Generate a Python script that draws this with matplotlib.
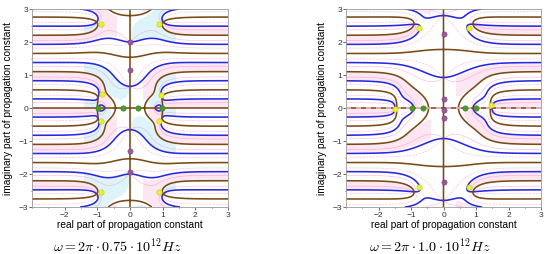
import numpy as np
import matplotlib
matplotlib.use('Agg')
import matplotlib.pyplot as plt

plt.rcParams['mathtext.fontset'] = 'cm'
plt.rcParams['font.family'] = ['Liberation Sans', 'DejaVu Sans']

# ---- data ----
# model parameters of the dispersion function per panel
# F(z) = cosh(a z) - c cosh(b z) exp(k z^2) * h/(|h|+eps),  h = z^2 - r^2
left_params = dict(a=5.7, c=30.6, b=2.35, k=0.0, r=0.72, eps=0.1)
right_params = dict(a=5.7, c=213.0, b=1.7, k=0.3, r=0.9, eps=0.1)

# marked roots (x, y)
left_yellow_x = [-0.88, 0.88, -0.88, 0.88, -0.87, 0.95, -0.88, 0.90]
left_yellow_y = [2.55, 2.55, -2.55, -2.55, 0.42, 0.38, -0.38, -0.38]
left_green_x = [-0.97, -0.22, 0.23, 0.97]
left_green_y = [0.0, 0.0, 0.0, 0.0]
left_purple_x = [0.0, 0.0, 0.0, 0.0]
left_purple_y = [2.0, 1.15, -1.3, -1.95]

right_yellow_x = [-0.75, 0.78, -0.75, 0.78, -1.49, 1.47]
right_yellow_y = [2.42, 2.42, -2.4, -2.4, -0.03, 0.08]
right_green_x = [-0.97, -0.62, 0.67, 0.99]
right_green_y = [0.0, 0.0, 0.0, 0.0]
right_purple_x = [0.0, 0.0, 0.0, 0.0, 0.0]
right_purple_y = [2.25, 0.27, -0.3, -2.25, -0.05]

xticks = [-2, -1, 0, 1, 2, 3]
yticks = [-3, -2, -1, 0, 1, 2, 3]
titles = [r'$\omega = 2\pi\cdot 0.75\cdot 10^{12}Hz$',
          r'$\omega = 2\pi\cdot 1.0\cdot 10^{12}Hz$']
xlabel = 'real part of propagation constant'
ylabel = 'imaginary part of propagation constant'

BLUE = '#2828e0'
BROWN = '#7a4a16'
PINK = '#ff80c8'

g = np.linspace(-3, 3, 600)
X, Y = np.meshgrid(g, g)
Z = X + 1j * Y


def model(a, c, b, k, r, eps):
    h = Z**2 - r**2
    return np.cosh(a * Z) - c * np.cosh(b * Z) * np.exp(k * Z**2) * h / (np.abs(h) + eps)


fig = plt.figure(figsize=(5.5, 2.55), dpi=100)
axL = fig.add_axes([32/550, 1-208/255, 196/550, 198/255])
axR = fig.add_axes([346/550, 1-208/255, 195/550, 198/255])

panels = [
    (axL, left_params, (left_yellow_x, left_yellow_y), (left_green_x, left_green_y),
     (left_purple_x, left_purple_y), titles[0], 117/550, False),
    (axR, right_params, (right_yellow_x, right_yellow_y), (right_green_x, right_green_y),
     (right_purple_x, right_purple_y), titles[1], 430/550, True),
]

for ax, prm, yel, grn, pur, title, tx, dashed_axis in panels:
    F = model(**prm)
    ph = np.angle(F)
    # faint background bands
    band = (ph > 0.15) & (ph < 1.3) & (np.abs(X) > 0.4)
    ax.contourf(X, Y, band.astype(float), levels=[0.5, 1.5], colors=['#fce6f1'])
    if not dashed_axis:
        cyan = (ph < -0.2) & (ph > -1.4) & (np.abs(X) < 1.4)
        ax.contourf(X, Y, cyan.astype(float), levels=[0.5, 1.5], colors=['#ddf4fa'])
    # faint pink side contours
    ax.contour(X, Y, np.cos(ph), levels=[-0.6, 0.6], colors=PINK, linewidths=0.45, alpha=0.55)
    # zero contours of the real (blue) and imaginary (brown) part
    ax.contour(X, Y, F.real, levels=[0], colors=BLUE, linewidths=1.15)
    ax.contour(X, Y, F.imag, levels=[0], colors=BROWN, linewidths=1.15)
    if dashed_axis:
        ax.plot([-3, 3], [0, 0], color='#f2b8cc', lw=1.2, ls=(0, (3, 3)))
    ax.scatter(*yel, s=15, color='#e8f030', edgecolors='#c8d000', linewidths=0.4, zorder=5)
    ax.scatter(*grn, s=15, color='#4a9a2a', edgecolors='#3a8020', linewidths=0.4, zorder=5)
    ax.scatter(*pur, s=14, color='#9a5a9a', edgecolors='#7a3a7a', linewidths=0.4, zorder=5)
    ax.set_xlim(-3, 3)
    ax.set_ylim(-3, 3)
    ax.set_xticks(xticks)
    ax.set_yticks(yticks)
    ax.set_xticks(np.arange(-3, 3.01, 0.5), minor=True)
    ax.set_yticks(np.arange(-3, 3.01, 0.5), minor=True)
    ax.tick_params(labelsize=6, length=2, width=0.5, pad=0.8, colors='#333333')
    ax.tick_params(which='minor', length=1, width=0.4)
    for s in ax.spines.values():
        s.set_color('#9a9a9a')
        s.set_linewidth(0.6)
    ax.set_xlabel(xlabel, fontsize=7.3)
    ax.set_ylabel(ylabel, fontsize=7.3)
    ax.xaxis.set_label_coords(0.5, -0.06)
    ax.yaxis.set_label_coords(-0.095, 0.5)
    fig.text(tx, 1 - 246/255, title, ha='center', va='center', fontsize=10.2)

fig.savefig('out.png', dpi=100)
